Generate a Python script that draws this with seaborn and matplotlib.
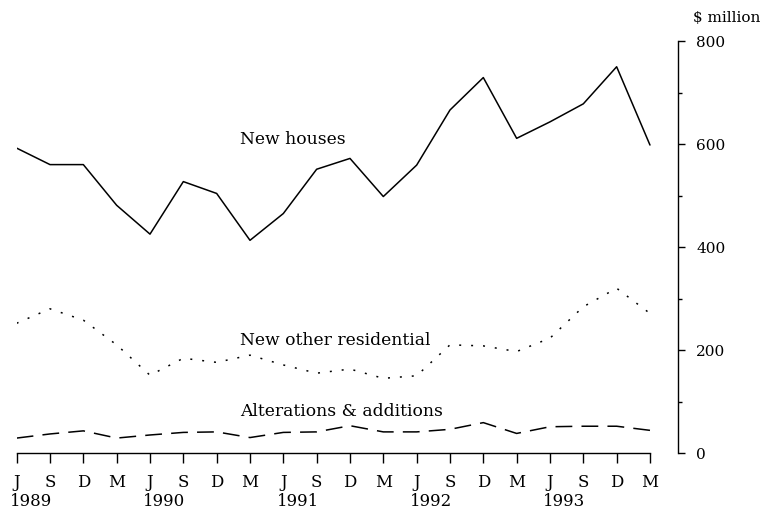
import pandas as pd
import matplotlib.pyplot as plt
from matplotlib.ticker import MultipleLocator
import seaborn as sns

sns.set_theme(style='white')
plt.rcParams['font.family'] = ['DejaVu Serif', 'Liberation Serif']
plt.rcParams['text.color'] = 'black'
plt.rcParams['xtick.color'] = 'black'
plt.rcParams['ytick.color'] = 'black'

# =============================================================
# DATA  ($ million, quarterly, June 1989 - March 1994)
# =============================================================

quarter_labels = ['J', 'S', 'D', 'M'] * 5
year_labels = ['1989', '1990', '1991', '1992', '1993']

new_houses = [592, 560, 560, 481, 425, 527, 504, 413, 465, 551,
              572, 498, 559, 666, 729, 611, 643, 678, 750, 598]
new_other = [252, 280, 258, 210, 151, 184, 176, 190, 171, 155,
             163, 145, 150, 210, 208, 197, 223, 284, 320, 271]
alterations = [29, 37, 43, 29, 35, 40, 41, 30, 40, 41,
               53, 41, 41, 46, 59, 38, 51, 52, 52, 44]

series_names = ['New houses', 'New other residential', 'Alterations & additions']

q = list(range(len(quarter_labels)))
df = pd.DataFrame({
    'quarter': q * 3,
    'value': new_houses + new_other + alterations,
    'series': [s for s in series_names for _ in q],
})

# =============================================================
# PLOT
# =============================================================

fig = plt.figure(figsize=(7.61, 5.21), dpi=100)
ax = fig.add_axes([0.0219, 0.1305, 0.869, 0.7908])

lw = 1.1
sns.lineplot(data=df, x='quarter', y='value', hue='series', style='series',
             palette=['black'] * 3,
             dashes={'New houses': '',
                     'New other residential': (1.3, 6.5),
                     'Alterations & additions': (11, 6)},
             linewidth=lw, legend=False, ax=ax)

ax.set_xlim(0, 19.84)
ax.set_ylim(0, 800)
ax.set_xlabel('')
ax.set_ylabel('')

# spines: bottom axis stops at last quarter, value axis on the right
for side in ['top', 'left']:
    ax.spines[side].set_visible(False)
ax.spines['bottom'].set_bounds(0, 19)
ax.spines['right'].set_bounds(0, 800)
for side in ['bottom', 'right']:
    ax.spines[side].set_color('black')
    ax.spines[side].set_linewidth(1.0)

ax.set_xticks(q)
ax.set_xticklabels(quarter_labels, fontsize=12)
ax.tick_params(axis='x', direction='out', length=7, width=1.0, pad=8,
               bottom=True)

ax.yaxis.tick_right()
ax.set_yticks([0, 200, 400, 600, 800])
ax.yaxis.set_minor_locator(MultipleLocator(100))
ax.tick_params(axis='y', which='major', direction='out', length=5, width=1.0,
               pad=8, labelsize=11)
ax.tick_params(axis='y', which='minor', direction='out', length=3, width=1.0)

# year labels under each June
for i, yr in enumerate(year_labels):
    ax.text(i * 4 - 0.2, -0.117, yr, transform=ax.get_xaxis_transform(),
            ha='left', va='center', fontsize=12)

ax.text(1.022, 1.056, '$ million', transform=ax.transAxes,
        ha='left', va='center', fontsize=11)

# series labels
ax.text(6.7, 609, 'New houses', ha='left', va='center', fontsize=12.3)
ax.text(6.7, 219, 'New other residential', ha='left', va='center', fontsize=12.3)
ax.text(6.7, 80, 'Alterations & additions', ha='left', va='center', fontsize=12.3)

plt.savefig('out.png', dpi=100)
plt.close()
